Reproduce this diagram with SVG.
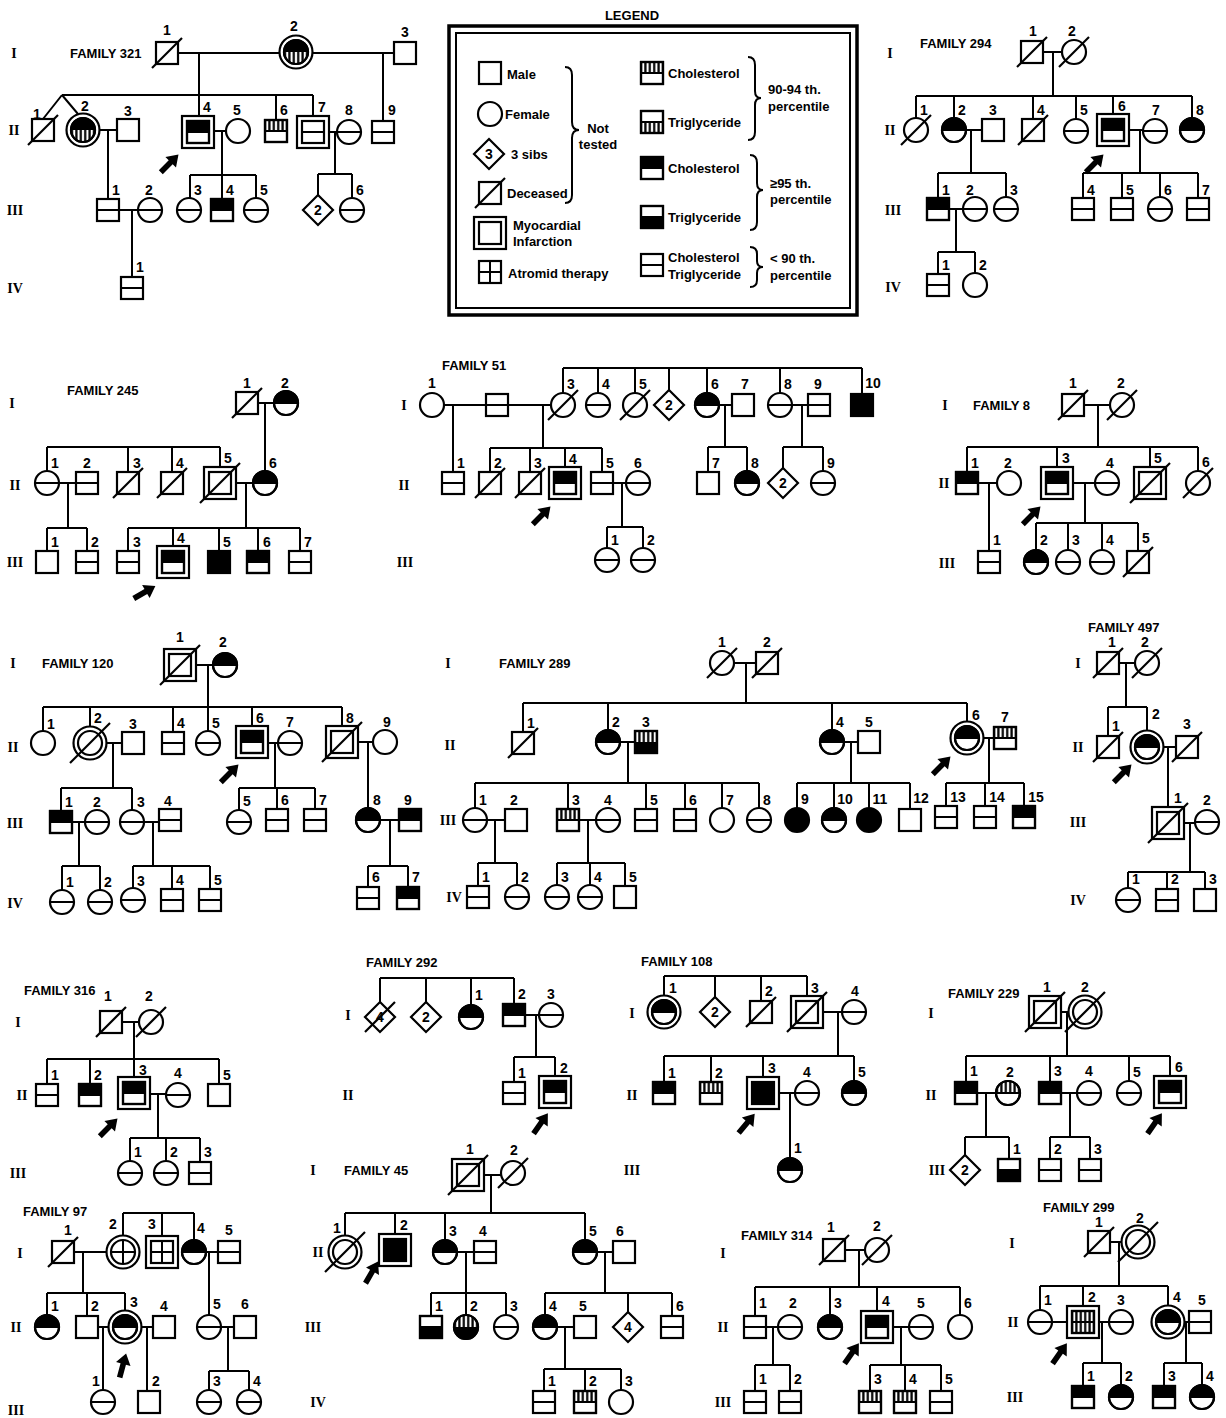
<svg xmlns="http://www.w3.org/2000/svg" width="1226" height="1418" viewBox="0 0 1226 1418">
<style>
.s{fill:#fff;stroke:#000;stroke-width:2.2}
.sk{fill:#000;stroke:#000;stroke-width:2.2}
.ol{fill:none;stroke:#000;stroke-width:2.2}
.k{fill:#000}
.ht{fill:url(#hat)}
.ml{stroke:#000;stroke-width:2;fill:none}
.xl{stroke:#000;stroke-width:2.2}
.ln{fill:none;stroke:#000;stroke-width:2}
.n{font-family:"Liberation Sans",Arial,sans-serif;font-size:14px;font-weight:bold;text-anchor:middle;dominant-baseline:central}
.tt{font-family:"Liberation Sans",Arial,sans-serif;font-size:13px;font-weight:bold;dominant-baseline:central}
.g{font-family:"Liberation Serif","Times New Roman",serif;font-size:14px;font-weight:bold;text-anchor:middle;dominant-baseline:central}
</style>
<defs>
<pattern id="hat" width="4.4" height="4" patternUnits="userSpaceOnUse"><rect x="1.1" width="2.2" height="4" fill="#000"/></pattern>
<rect id="sb" x="-11" y="-11" width="22" height="22"/>
<circle id="cb" r="12"/>
<rect id="sT" x="-11" y="-11" width="22" height="11"/>
<rect id="sB" x="-11" y="0" width="22" height="11"/>
<path id="cT" d="M-12 0A12 12 0 0 1 12 0Z"/>
<path id="cB" d="M-12 0A12 12 0 0 0 12 0Z"/>
<path id="sm" d="M-11 0H11"/>
<path id="cm" d="M-12 0H12"/>
<g id="Sn"><use href="#sb" class="s"/></g>
<g id="Sh"><use href="#sb" class="s"/><use href="#sm" class="ml"/></g>
<g id="SC"><use href="#sb" class="s"/><use href="#sT" class="k"/><use href="#sm" class="ml"/><use href="#sb" class="ol"/></g>
<g id="ST"><use href="#sb" class="s"/><use href="#sB" class="k"/><use href="#sm" class="ml"/><use href="#sb" class="ol"/></g>
<g id="SF"><use href="#sb" class="sk"/></g>
<g id="Sc"><use href="#sb" class="s"/><use href="#sT" class="ht"/><use href="#sm" class="ml"/><use href="#sb" class="ol"/></g>
<g id="St"><use href="#sb" class="s"/><use href="#sB" class="ht"/><use href="#sm" class="ml"/><use href="#sb" class="ol"/></g>
<g id="ScT"><use href="#sb" class="s"/><use href="#sT" class="ht"/><use href="#sB" class="k"/><use href="#sb" class="ol"/></g>
<g id="Sct"><use href="#sb" class="s"/><use href="#sT" class="ht"/><use href="#sB" class="ht"/><use href="#sm" class="ml"/><use href="#sb" class="ol"/></g>
<g id="Cn"><use href="#cb" class="s"/></g>
<g id="Ch"><use href="#cb" class="s"/><use href="#cm" class="ml"/></g>
<g id="CC"><use href="#cb" class="s"/><use href="#cT" class="k"/><use href="#cm" class="ml"/><use href="#cb" class="ol"/></g>
<g id="CF"><use href="#cb" class="sk"/></g>
<g id="Cc"><use href="#cb" class="s"/><use href="#cT" class="ht"/><use href="#cm" class="ml"/><use href="#cb" class="ol"/></g>
<g id="CCt"><use href="#cb" class="s"/><use href="#cT" class="k"/><use href="#cB" class="ht"/><use href="#cb" class="ol"/></g>
<g id="CcT"><use href="#cb" class="s"/><use href="#cT" class="ht"/><use href="#cB" class="k"/><use href="#cb" class="ol"/></g>
<path id="Dn" d="M0 -15L15 0L0 15L-15 0Z" class="s"/>
<rect id="MS" x="-16" y="-16" width="32" height="32" class="s"/>
<circle id="MC" r="16.5" class="s"/>
<path id="X" d="M-15 15L15 -15" class="xl"/>
<path id="XL" d="M-20 20L20 -20" class="xl"/>
<path id="AS" d="M0 -11V11M-11 0H11" class="ml"/>
<path id="AC" d="M0 -12V12M-12 0H12" class="ml"/>
<path id="AR" d="M-13 -2.8H1V-7.5L12 0L1 7.5V2.8H-13Z" class="k"/>
</defs>
<rect width="1226" height="1418" fill="#fff"/>

<g id="connectors" class="ln">
<path d="M167 53H405M199 53V95M62 95H313M62 95L43 119M62 95L78 114M199 95V132M276 95V131M313 95V132M383 53V132M83 130H128M108 130V210M198 131H238M222 131V175M190 175H256M190 175V210M222 175V210M256 175V210M313 132H349M335 132V174M318 174H352M318 174V210M352 174V210M108 210H150M132 210V288"/>
<path d="M1032 52H1074M1053 52V96M916 96H1192M916 96V130M954 96V130M1033 96V130M1076 96V131M1113 96V130M1192 96V130M954 130H993M971 130V173M938 173H1006M938 173V209M1006 173V209M1113 130H1155M1140 130V173M1083 173H1198M1083 173V209M1122 173V209M1160 173V209M1198 173V209M938 209H975M956 209V252M938 252H975M938 252V285M975 252V285"/>
<path d="M247 403H286M265 403V483M47 447H220M47 447V483M128 447V483M172 447V483M220 447V483M47 483H87M68 483V528M47 528H87M47 528V562M87 528V562M220 483H265M246 483V528M128 528H300M128 528V562M173 528V562M219 528V562M258 528V562M300 528V562"/>
<path d="M432 405H563M453 405V483M543 405V448M490 448H602M490 448V483M530 448V483M565 448V483M602 448V483M563 368H862M563 368V405M598 368V405M635 368V405M669 368V405M707 368V405M780 368V405M862 368V405M707 405H743M725 405V447M708 447H747M708 447V483M747 447V483M780 405H819M802 405V447M783 447H823M783 447V483M823 447V483M602 483H638M622 483V527M607 527H643M607 527V560M643 527V560"/>
<path d="M1073 405H1122M1098 405V447M967 447H1198M967 447V483M1057 447V483M1150 447V483M1198 447V483M967 483H1009M989 483V562M1057 483H1107M1085 483V523M1036 523H1138M1036 523V562M1068 523V562M1102 523V562M1138 523V562"/>
<path d="M180 665H225M208 665V707M43 707H342M43 707V743M90 707V743M173 707V743M208 707V743M252 707V742M342 707V742M90 743H133M113 743V788M61 788H132M61 788V822M132 788V822M252 743H290M275 743V788M239 788H315M239 788V822M277 788V820M315 788V820M342 742H385M368 742V820M61 822H97M79 822V866M62 866H100M62 866V902M100 866V902M132 822H170M153 822V866M133 866H210M133 866V900M172 866V900M210 866V900M368 820H410M390 820V866M368 866H408M368 866V898M408 866V898"/>
<path d="M722 663H767M746 663V703M523 703H967M523 703V742M608 703V742M832 703V742M967 703V738M608 742H646M628 742V783M475 783H759M475 783V820M568 783V820M646 783V820M685 783V820M722 783V820M759 783V820M832 742H869M851 742V783M797 783H910M797 783V820M834 783V820M869 783V820M910 783V820M967 738H1005M989 738V783M946 783H1024M946 783V817M985 783V817M1024 783V817M475 820H516M495 820V863M478 863H517M478 863V897M517 863V897M568 820H608M588 820V863M557 863H625M557 863V897M590 863V897M625 863V897"/>
<path d="M1108 663H1147M1126 663V707M1108 707H1147M1108 707V747M1147 707V747M1147 747H1187M1168 747V823M1168 823H1207M1190 823V872M1128 872H1205M1128 872V900M1167 872V900M1205 872V900"/>
<path d="M111 1022H151M134 1022V1059M47 1059H219M47 1059V1095M90 1059V1095M134 1059V1093M219 1059V1095M134 1094H178M158 1094V1138M130 1138H200M130 1138V1173M166 1138V1173M200 1138V1173"/>
<path d="M380 978H514M380 978V1017M426 978V1017M471 978V1017M514 978V1015M514 1015H551M536 1015V1057M514 1057H555M514 1057V1093M555 1057V1092"/>
<path d="M664 976H807M664 976V1012M715 976V1012M761 976V1012M807 976V1012M807 1012H854M838 1012V1056M664 1056H854M664 1056V1093M711 1056V1093M763 1056V1093M854 1056V1093M763 1093H807M790 1093V1170"/>
<path d="M1045 1012H1085M1067 1012V1056M966 1056H1170M966 1056V1093M1050 1056V1093M1129 1056V1093M1170 1056V1092M966 1093H1008M986 1093V1137M965 1137H1009M965 1137V1170M1009 1137V1170M1050 1093H1089M1070 1093V1137M1050 1137H1090M1050 1137V1170M1090 1137V1170"/>
<path d="M123 1213H194M123 1213V1252M162 1213V1252M194 1213V1252M63 1252H123M83 1252V1293M47 1293H125M47 1293V1327M87 1293V1327M125 1293V1327M194 1252H229M209 1252V1327M87 1327H164M103 1327V1402M147 1327V1402M209 1327H245M228 1327V1371M209 1371H249M209 1371V1402M249 1371V1402"/>
<path d="M468 1175H513M491 1175V1213M345 1213H585M345 1213V1252M395 1213V1250M445 1213V1252M585 1213V1252M445 1252H485M466 1252V1293M431 1293H506M431 1293V1327M466 1293V1327M506 1293V1327M585 1252H624M605 1252V1293M545 1293H672M545 1293V1327M628 1293V1327M672 1293V1327M545 1327H585M565 1327V1369M544 1369H621M544 1369V1402M585 1369V1402M621 1369V1402"/>
<path d="M834 1250H877M859 1250V1287M755 1287H960M755 1287V1327M830 1287V1327M877 1287V1327M960 1287V1327M755 1327H790M773 1327V1365M755 1365H790M755 1365V1402M790 1365V1402M877 1327H921M901 1327V1365M870 1365H941M870 1365V1402M905 1365V1402M941 1365V1402"/>
<path d="M1099 1242H1138M1119 1242V1286M1040 1286H1168M1040 1286V1322M1083 1286V1322M1168 1286V1322M1040 1322H1121M1102 1322V1363M1083 1363H1121M1083 1363V1397M1121 1363V1397M1168 1322H1200M1186 1322V1363M1164 1363H1202M1164 1363V1397M1202 1363V1397"/>
</g>

<g id="legend">
<text class="tt" x="632" y="15" text-anchor="middle">LEGEND</text>
<rect x="449" y="26" width="408" height="289" fill="none" stroke="#000" stroke-width="3.5"/>
<rect x="456" y="33" width="394" height="275" fill="none" stroke="#000" stroke-width="2"/>
<use href="#Sn" x="490" y="73"/><text class="tt" x="507" y="74">Male</text>
<use href="#Cn" x="490" y="114"/><text class="tt" x="505" y="114">Female</text>
<use href="#Dn" x="489" y="154"/><text class="n" x="489" y="154">3</text><text class="tt" x="511" y="154">3 sibs</text>
<use href="#Sn" x="490" y="193"/><use href="#X" x="490" y="193"/><text class="tt" x="507" y="193">Deceased</text>
<path class="ln" d="M565 67Q572 67 572 75V122Q572 130 579 130Q572 130 572 138V195Q572 203 565 203"/>
<text class="tt" x="598" y="128" text-anchor="middle">Not</text><text class="tt" x="598" y="144" text-anchor="middle">tested</text>
<use href="#MS" x="490" y="233"/><use href="#Sn" x="490" y="233"/><text class="tt" x="513" y="225">Myocardial</text><text class="tt" x="513" y="241">Infarction</text>
<use href="#Sn" x="490" y="272"/><use href="#AS" x="490" y="272"/><text class="tt" x="508" y="273">Atromid therapy</text>
<use href="#Sc" x="652" y="73"/><text class="tt" x="668" y="73">Cholesterol</text>
<use href="#St" x="652" y="122"/><text class="tt" x="668" y="122">Triglyceride</text>
<use href="#SC" x="652" y="168"/><text class="tt" x="668" y="168">Cholesterol</text>
<use href="#ST" x="652" y="217"/><text class="tt" x="668" y="217">Triglyceride</text>
<use href="#Sh" x="652" y="265"/><text class="tt" x="668" y="257">Cholesterol</text><text class="tt" x="668" y="274">Triglyceride</text>
<path class="ln" d="M748 57Q755 57 755 65V91Q755 98 761 98Q755 98 755 105V132Q755 140 748 140"/>
<path class="ln" d="M750 155Q757 155 757 163V183Q757 190 763 190Q757 190 757 197V222Q757 230 750 230"/>
<path class="ln" d="M750 247Q757 247 757 254V261Q757 267 763 267Q757 267 757 273V280Q757 287 750 287"/>
<text class="tt" x="768" y="89">90-94 th.</text><text class="tt" x="768" y="106">percentile</text>
<text class="tt" x="770" y="183">≥95 th.</text><text class="tt" x="770" y="199">percentile</text>
<text class="tt" x="770" y="258">&lt; 90 th.</text><text class="tt" x="770" y="275">percentile</text>
</g>

<g id="labels">
<text class="tt" x="70" y="53">FAMILY 321</text>
<text class="g" x="14" y="53">I</text><text class="g" x="14" y="130">II</text><text class="g" x="15" y="210">III</text><text class="g" x="15" y="288">IV</text>
<text class="tt" x="920" y="43">FAMILY 294</text>
<text class="g" x="890" y="53">I</text><text class="g" x="890" y="130">II</text><text class="g" x="893" y="210">III</text><text class="g" x="893" y="287">IV</text>
<text class="tt" x="67" y="390">FAMILY 245</text>
<text class="g" x="12" y="403">I</text><text class="g" x="15" y="485">II</text><text class="g" x="15" y="562">III</text>
<text class="tt" x="442" y="365">FAMILY 51</text>
<text class="g" x="404" y="405">I</text><text class="g" x="404" y="485">II</text><text class="g" x="405" y="562">III</text>
<text class="tt" x="973" y="405">FAMILY 8</text>
<text class="g" x="945" y="405">I</text><text class="g" x="944" y="483">II</text><text class="g" x="947" y="563">III</text>
<text class="tt" x="42" y="663">FAMILY 120</text>
<text class="g" x="13" y="663">I</text><text class="g" x="13" y="747">II</text><text class="g" x="15" y="823">III</text><text class="g" x="15" y="903">IV</text>
<text class="tt" x="499" y="663">FAMILY 289</text>
<text class="g" x="448" y="663">I</text><text class="g" x="450" y="745">II</text><text class="g" x="448" y="820">III</text><text class="g" x="454" y="897">IV</text>
<text class="tt" x="1088" y="627">FAMILY 497</text>
<text class="g" x="1078" y="663">I</text><text class="g" x="1078" y="747">II</text><text class="g" x="1078" y="822">III</text><text class="g" x="1078" y="900">IV</text>
<text class="tt" x="24" y="990">FAMILY 316</text>
<text class="g" x="18" y="1022">I</text><text class="g" x="22" y="1095">II</text><text class="g" x="18" y="1173">III</text>
<text class="tt" x="366" y="962">FAMILY 292</text>
<text class="g" x="348" y="1015">I</text><text class="g" x="348" y="1095">II</text>
<text class="tt" x="641" y="961">FAMILY 108</text>
<text class="g" x="632" y="1013">I</text><text class="g" x="632" y="1095">II</text><text class="g" x="632" y="1170">III</text>
<text class="tt" x="948" y="993">FAMILY 229</text>
<text class="g" x="931" y="1013">I</text><text class="g" x="931" y="1095">II</text><text class="g" x="937" y="1170">III</text>
<text class="tt" x="23" y="1211">FAMILY 97</text>
<text class="g" x="20" y="1253">I</text><text class="g" x="16" y="1327">II</text><text class="g" x="16" y="1410">III</text>
<text class="tt" x="344" y="1170">FAMILY 45</text>
<text class="g" x="313" y="1170">I</text><text class="g" x="318" y="1252">II</text><text class="g" x="313" y="1327">III</text><text class="g" x="318" y="1402">IV</text>
<text class="tt" x="741" y="1235">FAMILY 314</text>
<text class="g" x="723" y="1253">I</text><text class="g" x="723" y="1327">II</text><text class="g" x="723" y="1402">III</text>
<text class="tt" x="1043" y="1207">FAMILY 299</text>
<text class="g" x="1012" y="1243">I</text><text class="g" x="1013" y="1322">II</text><text class="g" x="1015" y="1397">III</text>
</g>

<g id="arrows">
<use href="#AR" transform="translate(170 163) rotate(-45)"/>
<use href="#AR" transform="translate(1095 163) rotate(-45)"/>
<use href="#AR" transform="translate(145 592) rotate(-30)"/>
<use href="#AR" transform="translate(542 515) rotate(-45)"/>
<use href="#AR" transform="translate(1032 515) rotate(-45)"/>
<use href="#AR" transform="translate(230 773) rotate(-45)"/>
<use href="#AR" transform="translate(942 765) rotate(-45)"/>
<use href="#AR" transform="translate(1123 773) rotate(-45)"/>
<use href="#AR" transform="translate(109 1127) rotate(-45)"/>
<use href="#AR" transform="translate(541 1123) rotate(-55)"/>
<use href="#AR" transform="translate(747 1123) rotate(-50)"/>
<use href="#AR" transform="translate(1155 1123) rotate(-55)"/>
<use href="#AR" transform="translate(123 1365) rotate(-75)"/>
<use href="#AR" transform="translate(372 1272) rotate(-60)"/>
<use href="#AR" transform="translate(852 1353) rotate(-55)"/>
<use href="#AR" transform="translate(1060 1353) rotate(-55)"/>
</g>

<g id="family321">
<g id="f321-I1"><use href="#Sn" x="167" y="53"/><use href="#X" x="167" y="53"/><text class="n" x="167" y="30">1</text></g>
<g id="f321-I2"><use href="#MC" x="296" y="52"/><use href="#CCt" x="296" y="52"/><text class="n" x="294" y="26">2</text></g>
<g id="f321-I3"><use href="#Sn" x="405" y="53"/><text class="n" x="405" y="32">3</text></g>
<g id="f321-II1"><use href="#Sn" x="43" y="130"/><use href="#X" x="43" y="130"/><text class="n" x="37" y="114">1</text></g>
<g id="f321-II2"><use href="#MC" x="83" y="130"/><use href="#CCt" x="83" y="130"/><text class="n" x="85" y="106">2</text></g>
<g id="f321-II3"><use href="#Sn" x="128" y="130"/><text class="n" x="128" y="111">3</text></g>
<g id="f321-II4"><use href="#MS" x="198" y="132"/><use href="#SC" x="198" y="132"/><text class="n" x="207" y="107">4</text></g>
<g id="f321-II5"><use href="#Cn" x="238" y="131"/><text class="n" x="237" y="110">5</text></g>
<g id="f321-II6"><use href="#Sc" x="276" y="131"/><text class="n" x="284" y="110">6</text></g>
<g id="f321-II7"><use href="#MS" x="313" y="132"/><use href="#Sh" x="313" y="132"/><text class="n" x="322" y="107">7</text></g>
<g id="f321-II8"><use href="#Ch" x="349" y="132"/><text class="n" x="349" y="110">8</text></g>
<g id="f321-II9"><use href="#Sh" x="383" y="132"/><text class="n" x="392" y="110">9</text></g>
<g id="f321-III1"><use href="#Sh" x="108" y="210"/><text class="n" x="116" y="190">1</text></g>
<g id="f321-III2"><use href="#Ch" x="150" y="210"/><text class="n" x="149" y="190">2</text></g>
<g id="f321-III3"><use href="#Ch" x="189" y="210"/><text class="n" x="198" y="190">3</text></g>
<g id="f321-III4"><use href="#SC" x="222" y="210"/><text class="n" x="230" y="190">4</text></g>
<g id="f321-III5"><use href="#Ch" x="256" y="210"/><text class="n" x="264" y="190">5</text></g>
<g id="f321-IIId"><use href="#Dn" x="318" y="210"/><text class="n" x="318" y="210">2</text></g>
<g id="f321-III6"><use href="#Ch" x="352" y="210"/><text class="n" x="360" y="190">6</text></g>
<g id="f321-IV1"><use href="#Sh" x="132" y="288"/><text class="n" x="140" y="267">1</text></g>
</g>

<g id="family294">
<g id="f294-I1"><use href="#Sn" x="1032" y="52"/><use href="#X" x="1032" y="52"/><text class="n" x="1033" y="31">1</text></g>
<g id="f294-I2"><use href="#Cn" x="1074" y="52"/><use href="#X" x="1074" y="52"/><text class="n" x="1072" y="31">2</text></g>
<g id="f294-II1"><use href="#Cn" x="916" y="130"/><use href="#X" x="916" y="130"/><text class="n" x="924" y="110">1</text></g>
<g id="f294-II2"><use href="#CC" x="954" y="130"/><text class="n" x="962" y="110">2</text></g>
<g id="f294-II3"><use href="#Sn" x="993" y="130"/><text class="n" x="993" y="110">3</text></g>
<g id="f294-II4"><use href="#Sn" x="1033" y="130"/><use href="#X" x="1033" y="130"/><text class="n" x="1041" y="110">4</text></g>
<g id="f294-II5"><use href="#Ch" x="1076" y="131"/><text class="n" x="1084" y="110">5</text></g>
<g id="f294-II6"><use href="#MS" x="1113" y="130"/><use href="#SC" x="1113" y="130"/><text class="n" x="1122" y="106">6</text></g>
<g id="f294-II7"><use href="#Ch" x="1155" y="131"/><text class="n" x="1156" y="110">7</text></g>
<g id="f294-II8"><use href="#CC" x="1192" y="130"/><text class="n" x="1200" y="110">8</text></g>
<g id="f294-III1"><use href="#SC" x="938" y="209"/><text class="n" x="946" y="190">1</text></g>
<g id="f294-III2"><use href="#Ch" x="975" y="209"/><text class="n" x="970" y="190">2</text></g>
<g id="f294-III3"><use href="#Ch" x="1006" y="209"/><text class="n" x="1014" y="190">3</text></g>
<g id="f294-III4"><use href="#Sh" x="1083" y="209"/><text class="n" x="1091" y="190">4</text></g>
<g id="f294-III5"><use href="#Sh" x="1122" y="209"/><text class="n" x="1130" y="190">5</text></g>
<g id="f294-III6"><use href="#Ch" x="1160" y="209"/><text class="n" x="1168" y="190">6</text></g>
<g id="f294-III7"><use href="#Sh" x="1198" y="209"/><text class="n" x="1206" y="190">7</text></g>
<g id="f294-IV1"><use href="#Sh" x="938" y="285"/><text class="n" x="946" y="265">1</text></g>
<g id="f294-IV2"><use href="#Cn" x="975" y="285"/><text class="n" x="983" y="265">2</text></g>
</g>

<g id="family245">
<g id="f245-I1"><use href="#Sn" x="247" y="403"/><use href="#X" x="247" y="403"/><text class="n" x="247" y="383">1</text></g>
<g id="f245-I2"><use href="#CC" x="286" y="403"/><text class="n" x="285" y="383">2</text></g>
<g id="f245-II1"><use href="#Ch" x="47" y="483"/><text class="n" x="55" y="463">1</text></g>
<g id="f245-II2"><use href="#Sh" x="87" y="483"/><text class="n" x="87" y="463">2</text></g>
<g id="f245-II3"><use href="#Sn" x="128" y="483"/><use href="#X" x="128" y="483"/><text class="n" x="137" y="463">3</text></g>
<g id="f245-II4"><use href="#Sn" x="172" y="483"/><use href="#X" x="172" y="483"/><text class="n" x="180" y="463">4</text></g>
<g id="f245-II5"><use href="#MS" x="220" y="483"/><use href="#Sn" x="220" y="483"/><use href="#XL" x="220" y="483"/><text class="n" x="228" y="458">5</text></g>
<g id="f245-II6"><use href="#CC" x="265" y="483"/><text class="n" x="273" y="463">6</text></g>
<g id="f245-III1"><use href="#Sn" x="47" y="562"/><text class="n" x="55" y="542">1</text></g>
<g id="f245-III2"><use href="#Sh" x="87" y="562"/><text class="n" x="95" y="542">2</text></g>
<g id="f245-III3"><use href="#Sh" x="128" y="562"/><text class="n" x="137" y="542">3</text></g>
<g id="f245-III4"><use href="#MS" x="173" y="562"/><use href="#SC" x="173" y="562"/><text class="n" x="181" y="538">4</text></g>
<g id="f245-III5"><use href="#SF" x="219" y="562"/><text class="n" x="227" y="542">5</text></g>
<g id="f245-III6"><use href="#SC" x="258" y="562"/><text class="n" x="267" y="542">6</text></g>
<g id="f245-III7"><use href="#Sh" x="300" y="562"/><text class="n" x="308" y="542">7</text></g>
</g>

<g id="family51">
<g id="f51-I1"><use href="#Cn" x="432" y="405"/><text class="n" x="432" y="383">1</text></g>
<g id="f51-Isp"><use href="#Sh" x="497" y="405"/></g>
<g id="f51-I3"><use href="#Cn" x="563" y="405"/><use href="#X" x="563" y="405"/><text class="n" x="571" y="384">3</text></g>
<g id="f51-I4"><use href="#Ch" x="598" y="405"/><text class="n" x="606" y="384">4</text></g>
<g id="f51-I5"><use href="#Cn" x="635" y="405"/><use href="#X" x="635" y="405"/><text class="n" x="643" y="384">5</text></g>
<g id="f51-Id"><use href="#Dn" x="669" y="405"/><text class="n" x="669" y="405">2</text></g>
<g id="f51-I6"><use href="#CC" x="707" y="405"/><text class="n" x="715" y="384">6</text></g>
<g id="f51-I7"><use href="#Sn" x="743" y="405"/><text class="n" x="745" y="384">7</text></g>
<g id="f51-I8"><use href="#Ch" x="780" y="405"/><text class="n" x="788" y="384">8</text></g>
<g id="f51-I9"><use href="#Sh" x="819" y="405"/><text class="n" x="818" y="384">9</text></g>
<g id="f51-I10"><use href="#SF" x="862" y="405"/><text class="n" x="873" y="383">10</text></g>
<g id="f51-II1"><use href="#Sh" x="453" y="483"/><text class="n" x="461" y="463">1</text></g>
<g id="f51-II2"><use href="#Sn" x="490" y="483"/><use href="#X" x="490" y="483"/><text class="n" x="498" y="463">2</text></g>
<g id="f51-II3"><use href="#Sn" x="530" y="483"/><use href="#X" x="530" y="483"/><text class="n" x="538" y="463">3</text></g>
<g id="f51-II4"><use href="#MS" x="565" y="483"/><use href="#SC" x="565" y="483"/><text class="n" x="573" y="459">4</text></g>
<g id="f51-II5"><use href="#Sh" x="602" y="483"/><text class="n" x="610" y="463">5</text></g>
<g id="f51-II6"><use href="#Ch" x="638" y="483"/><text class="n" x="638" y="463">6</text></g>
<g id="f51-II7"><use href="#Sn" x="708" y="483"/><text class="n" x="716" y="463">7</text></g>
<g id="f51-II8"><use href="#CC" x="747" y="483"/><text class="n" x="755" y="463">8</text></g>
<g id="f51-IId"><use href="#Dn" x="783" y="483"/><text class="n" x="783" y="483">2</text></g>
<g id="f51-II9"><use href="#Ch" x="823" y="483"/><text class="n" x="831" y="463">9</text></g>
<g id="f51-III1"><use href="#Ch" x="607" y="560"/><text class="n" x="615" y="540">1</text></g>
<g id="f51-III2"><use href="#Ch" x="643" y="560"/><text class="n" x="651" y="540">2</text></g>
</g>

<g id="family8">
<g id="f8-I1"><use href="#Sn" x="1073" y="405"/><use href="#X" x="1073" y="405"/><text class="n" x="1073" y="383">1</text></g>
<g id="f8-I2"><use href="#Cn" x="1122" y="405"/><use href="#X" x="1122" y="405"/><text class="n" x="1121" y="383">2</text></g>
<g id="f8-II1"><use href="#SC" x="967" y="483"/><text class="n" x="975" y="463">1</text></g>
<g id="f8-II2"><use href="#Cn" x="1009" y="483"/><text class="n" x="1008" y="463">2</text></g>
<g id="f8-II3"><use href="#MS" x="1057" y="483"/><use href="#SC" x="1057" y="483"/><text class="n" x="1066" y="458">3</text></g>
<g id="f8-II4"><use href="#Ch" x="1107" y="483"/><text class="n" x="1110" y="463">4</text></g>
<g id="f8-II5"><use href="#MS" x="1150" y="483"/><use href="#Sn" x="1150" y="483"/><use href="#XL" x="1150" y="483"/><text class="n" x="1158" y="458">5</text></g>
<g id="f8-II6"><use href="#Cn" x="1198" y="483"/><use href="#X" x="1198" y="483"/><text class="n" x="1206" y="462">6</text></g>
<g id="f8-III1"><use href="#Sh" x="989" y="562"/><text class="n" x="997" y="540">1</text></g>
<g id="f8-III2"><use href="#CC" x="1036" y="562"/><text class="n" x="1044" y="540">2</text></g>
<g id="f8-III3"><use href="#Ch" x="1068" y="562"/><text class="n" x="1076" y="540">3</text></g>
<g id="f8-III4"><use href="#Ch" x="1102" y="562"/><text class="n" x="1110" y="540">4</text></g>
<g id="f8-III5"><use href="#Sn" x="1138" y="562"/><use href="#X" x="1138" y="562"/><text class="n" x="1146" y="538">5</text></g>
</g>

<g id="family120">
<g id="f120-I1"><use href="#MS" x="180" y="665"/><use href="#Sn" x="180" y="665"/><use href="#XL" x="180" y="665"/><text class="n" x="180" y="637">1</text></g>
<g id="f120-I2"><use href="#CC" x="225" y="665"/><text class="n" x="223" y="642">2</text></g>
<g id="f120-II1"><use href="#Cn" x="43" y="743"/><text class="n" x="51" y="724">1</text></g>
<g id="f120-II2"><use href="#MC" x="90" y="743"/><use href="#Cn" x="90" y="743"/><use href="#XL" x="90" y="743"/><text class="n" x="98" y="718">2</text></g>
<g id="f120-II3"><use href="#Sn" x="133" y="743"/><text class="n" x="133" y="724">3</text></g>
<g id="f120-II4"><use href="#Sh" x="173" y="743"/><text class="n" x="181" y="723">4</text></g>
<g id="f120-II5"><use href="#Ch" x="208" y="743"/><text class="n" x="216" y="723">5</text></g>
<g id="f120-II6"><use href="#MS" x="252" y="742"/><use href="#SC" x="252" y="742"/><text class="n" x="260" y="718">6</text></g>
<g id="f120-II7"><use href="#Ch" x="290" y="743"/><text class="n" x="290" y="722">7</text></g>
<g id="f120-II8"><use href="#MS" x="342" y="742"/><use href="#Sn" x="342" y="742"/><use href="#XL" x="342" y="742"/><text class="n" x="350" y="718">8</text></g>
<g id="f120-II9"><use href="#Cn" x="385" y="742"/><text class="n" x="387" y="722">9</text></g>
<g id="f120-III1"><use href="#SC" x="61" y="822"/><text class="n" x="69" y="802">1</text></g>
<g id="f120-III2"><use href="#Ch" x="97" y="822"/><text class="n" x="97" y="802">2</text></g>
<g id="f120-III3"><use href="#Ch" x="132" y="822"/><text class="n" x="141" y="802">3</text></g>
<g id="f120-III4"><use href="#Sh" x="170" y="820"/><text class="n" x="168" y="801">4</text></g>
<g id="f120-III5"><use href="#Ch" x="239" y="822"/><text class="n" x="247" y="801">5</text></g>
<g id="f120-III6"><use href="#Sh" x="277" y="820"/><text class="n" x="285" y="800">6</text></g>
<g id="f120-III7"><use href="#Sh" x="315" y="820"/><text class="n" x="323" y="800">7</text></g>
<g id="f120-III8"><use href="#CC" x="368" y="820"/><text class="n" x="377" y="800">8</text></g>
<g id="f120-III9"><use href="#SC" x="410" y="820"/><text class="n" x="408" y="800">9</text></g>
<g id="f120-IV1"><use href="#Ch" x="62" y="902"/><text class="n" x="70" y="882">1</text></g>
<g id="f120-IV2"><use href="#Ch" x="100" y="902"/><text class="n" x="108" y="882">2</text></g>
<g id="f120-IV3"><use href="#Ch" x="133" y="900"/><text class="n" x="141" y="881">3</text></g>
<g id="f120-IV4"><use href="#Sh" x="172" y="900"/><text class="n" x="180" y="880">4</text></g>
<g id="f120-IV5"><use href="#Sh" x="210" y="900"/><text class="n" x="218" y="880">5</text></g>
<g id="f120-IV6"><use href="#Sh" x="368" y="898"/><text class="n" x="376" y="877">6</text></g>
<g id="f120-IV7"><use href="#SC" x="408" y="898"/><text class="n" x="416" y="877">7</text></g>
</g>

<g id="family289">
<g id="f289-I1"><use href="#Cn" x="722" y="663"/><use href="#X" x="722" y="663"/><text class="n" x="722" y="642">1</text></g>
<g id="f289-I2"><use href="#Sn" x="767" y="663"/><use href="#X" x="767" y="663"/><text class="n" x="767" y="642">2</text></g>
<g id="f289-II1"><use href="#Sn" x="523" y="743"/><use href="#X" x="523" y="743"/><text class="n" x="531" y="723">1</text></g>
<g id="f289-II2"><use href="#CC" x="608" y="742"/><text class="n" x="616" y="722">2</text></g>
<g id="f289-II3"><use href="#ScT" x="646" y="742"/><text class="n" x="646" y="722">3</text></g>
<g id="f289-II4"><use href="#CC" x="832" y="742"/><text class="n" x="840" y="722">4</text></g>
<g id="f289-II5"><use href="#Sn" x="869" y="742"/><text class="n" x="869" y="722">5</text></g>
<g id="f289-II6"><use href="#MC" x="967" y="738"/><use href="#CC" x="967" y="738"/><text class="n" x="976" y="715">6</text></g>
<g id="f289-II7"><use href="#Sc" x="1005" y="738"/><text class="n" x="1005" y="717">7</text></g>
<g id="f289-III1"><use href="#Ch" x="475" y="820"/><text class="n" x="483" y="800">1</text></g>
<g id="f289-III2"><use href="#Sn" x="516" y="820"/><text class="n" x="514" y="800">2</text></g>
<g id="f289-III3"><use href="#Sc" x="568" y="820"/><text class="n" x="576" y="800">3</text></g>
<g id="f289-III4"><use href="#Ch" x="608" y="820"/><text class="n" x="608" y="800">4</text></g>
<g id="f289-III5"><use href="#Sh" x="646" y="820"/><text class="n" x="654" y="800">5</text></g>
<g id="f289-III6"><use href="#Sh" x="685" y="820"/><text class="n" x="693" y="800">6</text></g>
<g id="f289-III7"><use href="#Cn" x="722" y="820"/><text class="n" x="730" y="800">7</text></g>
<g id="f289-III8"><use href="#Ch" x="759" y="820"/><text class="n" x="767" y="800">8</text></g>
<g id="f289-III9"><use href="#CF" x="797" y="820"/><text class="n" x="805" y="799">9</text></g>
<g id="f289-III10"><use href="#CC" x="834" y="820"/><text class="n" x="845" y="799">10</text></g>
<g id="f289-III11"><use href="#CF" x="869" y="820"/><text class="n" x="880" y="799">11</text></g>
<g id="f289-III12"><use href="#Sn" x="910" y="820"/><text class="n" x="921" y="798">12</text></g>
<g id="f289-III13"><use href="#Sh" x="946" y="817"/><text class="n" x="958" y="797">13</text></g>
<g id="f289-III14"><use href="#Sh" x="985" y="817"/><text class="n" x="997" y="797">14</text></g>
<g id="f289-III15"><use href="#SC" x="1024" y="817"/><text class="n" x="1036" y="797">15</text></g>
<g id="f289-IV1"><use href="#Sh" x="478" y="897"/><text class="n" x="486" y="877">1</text></g>
<g id="f289-IV2"><use href="#Ch" x="517" y="897"/><text class="n" x="525" y="877">2</text></g>
<g id="f289-IV3"><use href="#Ch" x="557" y="897"/><text class="n" x="565" y="877">3</text></g>
<g id="f289-IV4"><use href="#Ch" x="590" y="897"/><text class="n" x="598" y="877">4</text></g>
<g id="f289-IV5"><use href="#Sn" x="625" y="897"/><text class="n" x="633" y="877">5</text></g>
</g>

<g id="family497">
<g id="f497-I1"><use href="#Sn" x="1108" y="663"/><use href="#X" x="1108" y="663"/><text class="n" x="1112" y="642">1</text></g>
<g id="f497-I2"><use href="#Cn" x="1147" y="663"/><use href="#X" x="1147" y="663"/><text class="n" x="1145" y="642">2</text></g>
<g id="f497-II1"><use href="#Sn" x="1108" y="747"/><use href="#X" x="1108" y="747"/><text class="n" x="1116" y="726">1</text></g>
<g id="f497-II2"><use href="#MC" x="1147" y="747"/><use href="#CC" x="1147" y="747"/><text class="n" x="1156" y="714">2</text></g>
<g id="f497-II3"><use href="#Sn" x="1187" y="747"/><use href="#X" x="1187" y="747"/><text class="n" x="1187" y="724">3</text></g>
<g id="f497-III1"><use href="#MS" x="1168" y="823"/><use href="#Sn" x="1168" y="823"/><use href="#XL" x="1168" y="823"/><text class="n" x="1178" y="798">1</text></g>
<g id="f497-III2"><use href="#Ch" x="1207" y="822"/><text class="n" x="1207" y="800">2</text></g>
<g id="f497-IV1"><use href="#Ch" x="1128" y="900"/><text class="n" x="1136" y="879">1</text></g>
<g id="f497-IV2"><use href="#Sh" x="1167" y="900"/><text class="n" x="1175" y="879">2</text></g>
<g id="f497-IV3"><use href="#Sn" x="1205" y="900"/><text class="n" x="1213" y="879">3</text></g>
</g>

<g id="family316">
<g id="f316-I1"><use href="#Sn" x="111" y="1022"/><use href="#X" x="111" y="1022"/><text class="n" x="108" y="996">1</text></g>
<g id="f316-I2"><use href="#Cn" x="151" y="1022"/><use href="#X" x="151" y="1022"/><text class="n" x="149" y="996">2</text></g>
<g id="f316-II1"><use href="#Sh" x="47" y="1095"/><text class="n" x="55" y="1075">1</text></g>
<g id="f316-II2"><use href="#SC" x="90" y="1095"/><text class="n" x="98" y="1075">2</text></g>
<g id="f316-II3"><use href="#MS" x="134" y="1093"/><use href="#SC" x="134" y="1093"/><text class="n" x="143" y="1070">3</text></g>
<g id="f316-II4"><use href="#Ch" x="178" y="1095"/><text class="n" x="178" y="1073">4</text></g>
<g id="f316-II5"><use href="#Sn" x="219" y="1095"/><text class="n" x="227" y="1075">5</text></g>
<g id="f316-III1"><use href="#Ch" x="130" y="1173"/><text class="n" x="138" y="1152">1</text></g>
<g id="f316-III2"><use href="#Ch" x="166" y="1173"/><text class="n" x="174" y="1152">2</text></g>
<g id="f316-III3"><use href="#Sh" x="200" y="1173"/><text class="n" x="208" y="1152">3</text></g>
</g>

<g id="family292">
<g id="f292-Id1"><use href="#Dn" x="380" y="1017"/><text class="n" x="380" y="1017">4</text><use href="#X" x="380" y="1017"/></g>
<g id="f292-Id2"><use href="#Dn" x="426" y="1017"/><text class="n" x="426" y="1017">2</text></g>
<g id="f292-I1"><use href="#CC" x="471" y="1017"/><text class="n" x="479" y="995">1</text></g>
<g id="f292-I2"><use href="#SC" x="514" y="1015"/><text class="n" x="522" y="994">2</text></g>
<g id="f292-I3"><use href="#Ch" x="551" y="1015"/><text class="n" x="551" y="994">3</text></g>
<g id="f292-II1"><use href="#Sh" x="514" y="1093"/><text class="n" x="522" y="1073">1</text></g>
<g id="f292-II2"><use href="#MS" x="555" y="1092"/><use href="#SC" x="555" y="1092"/><text class="n" x="564" y="1068">2</text></g>
</g>

<g id="family108">
<g id="f108-I1"><use href="#MC" x="664" y="1012"/><use href="#CC" x="664" y="1012"/><text class="n" x="673" y="988">1</text></g>
<g id="f108-Id"><use href="#Dn" x="715" y="1012"/><text class="n" x="715" y="1012">2</text></g>
<g id="f108-I2"><use href="#Sn" x="761" y="1012"/><use href="#X" x="761" y="1012"/><text class="n" x="769" y="991">2</text></g>
<g id="f108-I3"><use href="#MS" x="807" y="1012"/><use href="#Sn" x="807" y="1012"/><use href="#XL" x="807" y="1012"/><text class="n" x="815" y="988">3</text></g>
<g id="f108-I4"><use href="#Ch" x="854" y="1012"/><text class="n" x="855" y="991">4</text></g>
<g id="f108-II1"><use href="#SC" x="664" y="1093"/><text class="n" x="672" y="1073">1</text></g>
<g id="f108-II2"><use href="#Sc" x="711" y="1093"/><text class="n" x="719" y="1073">2</text></g>
<g id="f108-II3"><use href="#MS" x="763" y="1093"/><use href="#SF" x="763" y="1093"/><text class="n" x="772" y="1068">3</text></g>
<g id="f108-II4"><use href="#Ch" x="807" y="1093"/><text class="n" x="807" y="1072">4</text></g>
<g id="f108-II5"><use href="#CC" x="854" y="1093"/><text class="n" x="862" y="1072">5</text></g>
<g id="f108-III1"><use href="#CC" x="790" y="1170"/><text class="n" x="798" y="1148">1</text></g>
</g>

<g id="family229">
<g id="f229-I1"><use href="#MS" x="1045" y="1012"/><use href="#Sn" x="1045" y="1012"/><use href="#XL" x="1045" y="1012"/><text class="n" x="1047" y="987">1</text></g>
<g id="f229-I2"><use href="#MC" x="1085" y="1012"/><use href="#Cn" x="1085" y="1012"/><use href="#XL" x="1085" y="1012"/><text class="n" x="1085" y="987">2</text></g>
<g id="f229-II1"><use href="#SC" x="966" y="1093"/><text class="n" x="974" y="1071">1</text></g>
<g id="f229-II2"><use href="#Cc" x="1008" y="1093"/><text class="n" x="1010" y="1072">2</text></g>
<g id="f229-II3"><use href="#SC" x="1050" y="1093"/><text class="n" x="1058" y="1071">3</text></g>
<g id="f229-II4"><use href="#Ch" x="1089" y="1093"/><text class="n" x="1089" y="1071">4</text></g>
<g id="f229-II5"><use href="#Ch" x="1129" y="1093"/><text class="n" x="1137" y="1072">5</text></g>
<g id="f229-II6"><use href="#MS" x="1170" y="1092"/><use href="#SC" x="1170" y="1092"/><text class="n" x="1179" y="1067">6</text></g>
<g id="f229-IIId"><use href="#Dn" x="965" y="1170"/><text class="n" x="965" y="1170">2</text></g>
<g id="f229-III1"><use href="#ST" x="1009" y="1170"/><text class="n" x="1017" y="1149">1</text></g>
<g id="f229-III2"><use href="#Sh" x="1050" y="1170"/><text class="n" x="1058" y="1149">2</text></g>
<g id="f229-III3"><use href="#Sh" x="1090" y="1170"/><text class="n" x="1098" y="1149">3</text></g>
</g>

<g id="family97">
<g id="f97-I1"><use href="#Sn" x="63" y="1252"/><use href="#X" x="63" y="1252"/><text class="n" x="68" y="1230">1</text></g>
<g id="f97-I2"><use href="#MC" x="123" y="1252"/><use href="#Cn" x="123" y="1252"/><use href="#AC" x="123" y="1252"/><text class="n" x="113" y="1224">2</text></g>
<g id="f97-I3"><use href="#MS" x="162" y="1252"/><use href="#Sn" x="162" y="1252"/><use href="#AS" x="162" y="1252"/><text class="n" x="152" y="1224">3</text></g>
<g id="f97-I4"><use href="#CC" x="194" y="1252"/><text class="n" x="201" y="1228">4</text></g>
<g id="f97-I5"><use href="#Sh" x="229" y="1252"/><text class="n" x="229" y="1230">5</text></g>
<g id="f97-II1"><use href="#CC" x="47" y="1327"/><text class="n" x="55" y="1306">1</text></g>
<g id="f97-II2"><use href="#Sn" x="87" y="1327"/><text class="n" x="95" y="1306">2</text></g>
<g id="f97-II3"><use href="#MC" x="125" y="1327"/><use href="#CC" x="125" y="1327"/><text class="n" x="134" y="1302">3</text></g>
<g id="f97-II4"><use href="#Sn" x="164" y="1327"/><text class="n" x="164" y="1306">4</text></g>
<g id="f97-II5"><use href="#Ch" x="209" y="1327"/><text class="n" x="217" y="1304">5</text></g>
<g id="f97-II6"><use href="#Sn" x="245" y="1327"/><text class="n" x="245" y="1304">6</text></g>
<g id="f97-III1"><use href="#Ch" x="103" y="1402"/><text class="n" x="96" y="1381">1</text></g>
<g id="f97-III2"><use href="#Sn" x="149" y="1402"/><text class="n" x="156" y="1381">2</text></g>
<g id="f97-III3"><use href="#Ch" x="209" y="1402"/><text class="n" x="217" y="1381">3</text></g>
<g id="f97-III4"><use href="#Ch" x="249" y="1402"/><text class="n" x="257" y="1381">4</text></g>
</g>

<g id="family45">
<g id="f45-I1"><use href="#MS" x="468" y="1175"/><use href="#Sn" x="468" y="1175"/><use href="#XL" x="468" y="1175"/><text class="n" x="470" y="1149">1</text></g>
<g id="f45-I2"><use href="#Cn" x="513" y="1173"/><use href="#X" x="513" y="1173"/><text class="n" x="514" y="1150">2</text></g>
<g id="f45-II1"><use href="#MC" x="345" y="1252"/><use href="#Cn" x="345" y="1252"/><use href="#XL" x="345" y="1252"/><text class="n" x="337" y="1228">1</text></g>
<g id="f45-II2"><use href="#MS" x="395" y="1250"/><use href="#SF" x="395" y="1250"/><text class="n" x="404" y="1225">2</text></g>
<g id="f45-II3"><use href="#CC" x="445" y="1252"/><text class="n" x="453" y="1231">3</text></g>
<g id="f45-II4"><use href="#Sh" x="485" y="1252"/><text class="n" x="483" y="1231">4</text></g>
<g id="f45-II5"><use href="#CC" x="585" y="1252"/><text class="n" x="593" y="1231">5</text></g>
<g id="f45-II6"><use href="#Sn" x="624" y="1252"/><text class="n" x="620" y="1231">6</text></g>
<g id="f45-III1"><use href="#ST" x="431" y="1327"/><text class="n" x="439" y="1306">1</text></g>
<g id="f45-III2"><use href="#CcT" x="466" y="1327"/><text class="n" x="474" y="1306">2</text></g>
<g id="f45-III3"><use href="#Ch" x="506" y="1327"/><text class="n" x="514" y="1306">3</text></g>
<g id="f45-III4"><use href="#CC" x="545" y="1327"/><text class="n" x="553" y="1306">4</text></g>
<g id="f45-III5"><use href="#Sn" x="585" y="1327"/><text class="n" x="583" y="1306">5</text></g>
<g id="f45-IIId"><use href="#Dn" x="628" y="1327"/><text class="n" x="628" y="1327">4</text></g>
<g id="f45-III6"><use href="#Sh" x="672" y="1327"/><text class="n" x="680" y="1306">6</text></g>
<g id="f45-IV1"><use href="#Sh" x="544" y="1402"/><text class="n" x="552" y="1381">1</text></g>
<g id="f45-IV2"><use href="#Sc" x="585" y="1402"/><text class="n" x="593" y="1381">2</text></g>
<g id="f45-IV3"><use href="#Cn" x="621" y="1402"/><text class="n" x="629" y="1381">3</text></g>
</g>

<g id="family314">
<g id="f314-I1"><use href="#Sn" x="834" y="1250"/><use href="#X" x="834" y="1250"/><text class="n" x="831" y="1227">1</text></g>
<g id="f314-I2"><use href="#Cn" x="877" y="1250"/><use href="#X" x="877" y="1250"/><text class="n" x="877" y="1226">2</text></g>
<g id="f314-II1"><use href="#Sh" x="755" y="1327"/><text class="n" x="763" y="1303">1</text></g>
<g id="f314-II2"><use href="#Ch" x="790" y="1327"/><text class="n" x="793" y="1303">2</text></g>
<g id="f314-II3"><use href="#CC" x="830" y="1327"/><text class="n" x="838" y="1303">3</text></g>
<g id="f314-II4"><use href="#MS" x="877" y="1327"/><use href="#SC" x="877" y="1327"/><text class="n" x="886" y="1301">4</text></g>
<g id="f314-II5"><use href="#Ch" x="921" y="1327"/><text class="n" x="921" y="1303">5</text></g>
<g id="f314-II6"><use href="#Cn" x="960" y="1327"/><text class="n" x="968" y="1303">6</text></g>
<g id="f314-III1"><use href="#Sh" x="755" y="1402"/><text class="n" x="763" y="1379">1</text></g>
<g id="f314-III2"><use href="#Sh" x="790" y="1402"/><text class="n" x="798" y="1379">2</text></g>
<g id="f314-III3"><use href="#Sc" x="870" y="1402"/><text class="n" x="878" y="1379">3</text></g>
<g id="f314-III4"><use href="#Sc" x="905" y="1402"/><text class="n" x="913" y="1379">4</text></g>
<g id="f314-III5"><use href="#Sh" x="941" y="1402"/><text class="n" x="949" y="1379">5</text></g>
</g>

<g id="family299">
<g id="f299-I1"><use href="#Sn" x="1099" y="1242"/><use href="#X" x="1099" y="1242"/><text class="n" x="1099" y="1222">1</text></g>
<g id="f299-I2"><use href="#MC" x="1138" y="1242"/><use href="#Cn" x="1138" y="1242"/><use href="#XL" x="1138" y="1242"/><text class="n" x="1140" y="1218">2</text></g>
<g id="f299-II1"><use href="#Ch" x="1040" y="1322"/><text class="n" x="1048" y="1300">1</text></g>
<g id="f299-II2"><use href="#MS" x="1083" y="1322"/><use href="#Sct" x="1083" y="1322"/><text class="n" x="1092" y="1297">2</text></g>
<g id="f299-II3"><use href="#Ch" x="1121" y="1322"/><text class="n" x="1121" y="1300">3</text></g>
<g id="f299-II4"><use href="#MC" x="1168" y="1322"/><use href="#CC" x="1168" y="1322"/><text class="n" x="1177" y="1297">4</text></g>
<g id="f299-II5"><use href="#Sh" x="1200" y="1322"/><text class="n" x="1202" y="1300">5</text></g>
<g id="f299-III1"><use href="#SC" x="1083" y="1397"/><text class="n" x="1091" y="1376">1</text></g>
<g id="f299-III2"><use href="#CC" x="1121" y="1397"/><text class="n" x="1129" y="1376">2</text></g>
<g id="f299-III3"><use href="#SC" x="1164" y="1397"/><text class="n" x="1172" y="1376">3</text></g>
<g id="f299-III4"><use href="#CC" x="1202" y="1397"/><text class="n" x="1210" y="1376">4</text></g>
</g>
</svg>
